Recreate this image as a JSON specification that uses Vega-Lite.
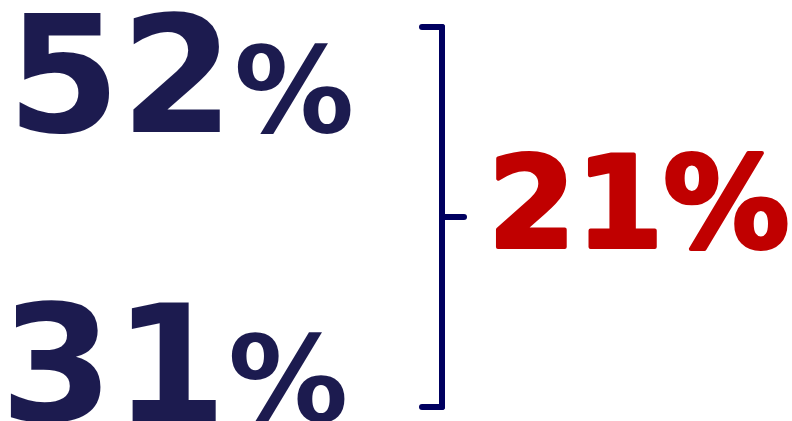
{
  "$schema": "https://vega.github.io/schema/vega-lite/v6.json",
  "width": 792,
  "height": 421,
  "padding": 0,
  "autosize": {"type": "fit", "contains": "padding"},
  "background": "#ffffff",
  "config": {"view": {"stroke": null}},
  "data": {
    "values": [
      {"label": "52%", "num": "52", "value": 52, "group": "part"},
      {"label": "31%", "num": "31", "value": 31, "group": "part"},
      {"label": "21%", "num": "21", "value": 21, "group": "difference"}
    ]
  },
  "encoding": {
    "y": {"type": "quantitative", "scale": {"domain": [31, 52], "range": [407, 27], "nice": false, "zero": false}, "axis": null}
  },
  "layer": [
    {
      "transform": [
        {"filter": "datum.group == 'part'"},
        {"aggregate": [{"op": "max", "field": "value", "as": "hi"}, {"op": "min", "field": "value", "as": "lo"}]}
      ],
      "mark": {"type": "rule", "color": "#000060", "strokeWidth": 6, "strokeCap": "round"},
      "encoding": {"y": {"field": "hi", "type": "quantitative"}, "y2": {"field": "lo"}, "x": {"value": 440}}
    },
    {
      "transform": [{"filter": "datum.group == 'part'"}],
      "mark": {"type": "rule", "color": "#000060", "strokeWidth": 6, "strokeCap": "round"},
      "encoding": {"y": {"field": "value", "type": "quantitative"}, "x": {"value": 420}, "x2": {"value": 440}}
    },
    {
      "transform": [
        {"filter": "datum.group == 'part'"},
        {"aggregate": [{"op": "mean", "field": "value", "as": "mid"}]}
      ],
      "mark": {"type": "rule", "color": "#000060", "strokeWidth": 6, "strokeCap": "round"},
      "encoding": {"y": {"field": "mid", "type": "quantitative"}, "x": {"value": 440}, "x2": {"value": 462}}
    },
    {
      "transform": [{"filter": "datum.label == '52%'"}],
      "mark": {"type": "text", "font": "DejaVu Sans", "fontWeight": "bold", "fontSize": 163, "align": "left", "baseline": "alphabetic", "color": "#1C1B4F", "dy": 105},
      "encoding": {"y": {"field": "value", "type": "quantitative"}, "x": {"value": 5}, "text": {"field": "num"}}
    },
    {
      "transform": [{"filter": "datum.label == '52%'"}],
      "mark": {"type": "text", "font": "DejaVu Sans", "fontWeight": "bold", "fontSize": 120, "align": "left", "baseline": "alphabetic", "color": "#1C1B4F", "dy": 105, "text": "%"},
      "encoding": {"y": {"field": "value", "type": "quantitative"}, "x": {"value": 232}}
    },
    {
      "transform": [{"filter": "datum.label == '31%'"}],
      "mark": {"type": "text", "font": "DejaVu Sans", "fontWeight": "bold", "fontSize": 163, "align": "left", "baseline": "alphabetic", "color": "#1C1B4F", "dy": 14},
      "encoding": {"y": {"field": "value", "type": "quantitative"}, "x": {"value": -2}, "text": {"field": "num"}}
    },
    {
      "transform": [{"filter": "datum.label == '31%'"}],
      "mark": {"type": "text", "font": "DejaVu Sans", "fontWeight": "bold", "fontSize": 120, "align": "left", "baseline": "alphabetic", "color": "#1C1B4F", "dy": 14, "text": "%"},
      "encoding": {"y": {"field": "value", "type": "quantitative"}, "x": {"value": 226}}
    },
    {
      "transform": [{"filter": "datum.group == 'difference'"}],
      "mark": {"type": "text", "font": "DejaVu Sans", "fontWeight": "bold", "fontSize": 126, "align": "left", "baseline": "alphabetic", "color": "#C00000", "stroke": "#C00000", "strokeWidth": 4, "strokeJoin": "round", "dy": 30},
      "encoding": {"y": {"datum": 41.5, "type": "quantitative"}, "x": {"value": 486}, "text": {"field": "label"}}
    }
  ]
}
